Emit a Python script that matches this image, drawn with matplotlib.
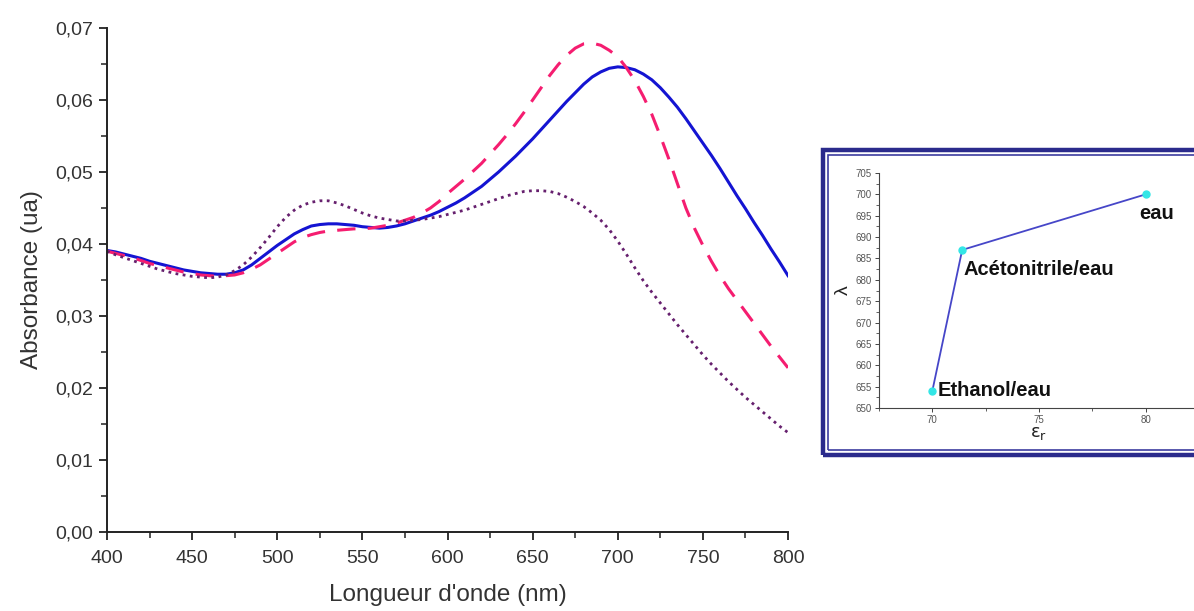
import matplotlib.pyplot as plt
from matplotlib.patches import Rectangle
from matplotlib.ticker import FuncFormatter, MultipleLocator

plt.rcParams['font.family'] = ['Liberation Sans', 'DejaVu Sans']

# Spectres (longueur d'onde en nm, pas de 5 nm)
wavelength = list(range(400, 801, 5))

abs_blue = [0.0391, 0.0389, 0.0386, 0.0383, 0.0380, 0.0376, 0.0373, 0.0370, 0.0367, 0.0364,
            0.0362, 0.0360, 0.0359, 0.0358, 0.0358, 0.0360, 0.0364, 0.0371, 0.0380, 0.0389,
            0.0398, 0.0406, 0.0414, 0.0420, 0.0425, 0.0427, 0.0428, 0.0428, 0.0427, 0.0426,
            0.0424, 0.0423, 0.0422, 0.0423, 0.0425, 0.0428, 0.0432, 0.0436, 0.0440, 0.0445,
            0.0451, 0.0457, 0.0464, 0.0472, 0.0480, 0.0490, 0.0500, 0.0511, 0.0522, 0.0534,
            0.0546, 0.0559, 0.0572, 0.0585, 0.0598, 0.0610, 0.0622, 0.0632, 0.0639, 0.0644,
            0.0646, 0.0645, 0.0642, 0.0636, 0.0628, 0.0617, 0.0604, 0.0590, 0.0574, 0.0557,
            0.0540, 0.0523, 0.0505, 0.0486, 0.0467, 0.0449, 0.0430, 0.0412, 0.0393, 0.0375,
            0.0356]

abs_pink = [0.0390, 0.0387, 0.0384, 0.0381, 0.0377, 0.0373, 0.0370, 0.0367, 0.0364, 0.0361,
            0.0359, 0.0357, 0.0356, 0.0355, 0.0356, 0.0357, 0.0360, 0.0365, 0.0371, 0.0379,
            0.0387, 0.0395, 0.0403, 0.0409, 0.0413, 0.0416, 0.0418, 0.0419, 0.0420, 0.0421,
            0.0421, 0.0422, 0.0424, 0.0426, 0.0429, 0.0433, 0.0437, 0.0443, 0.0450, 0.0459,
            0.0470, 0.0480, 0.0490, 0.0501, 0.0512, 0.0525, 0.0538, 0.0552, 0.0567, 0.0583,
            0.0600, 0.0617, 0.0634, 0.0649, 0.0662, 0.0672, 0.0678, 0.0679, 0.0676, 0.0669,
            0.0660, 0.0645, 0.0627, 0.0605, 0.0580, 0.0550, 0.0518, 0.0484, 0.0450, 0.0422,
            0.0398, 0.0376, 0.0356, 0.0338, 0.0322, 0.0306, 0.0290, 0.0274, 0.0258, 0.0243,
            0.0228]

abs_purple = [0.0390, 0.0385, 0.0381, 0.0377, 0.0373, 0.0369, 0.0365, 0.0362, 0.0359, 0.0357,
              0.0355, 0.0354, 0.0353, 0.0354, 0.0357, 0.0363, 0.0371, 0.0382, 0.0395, 0.0409,
              0.0424, 0.0437, 0.0447, 0.0454, 0.0458, 0.0460, 0.0460, 0.0457, 0.0453, 0.0448,
              0.0443, 0.0439, 0.0436, 0.0434, 0.0432, 0.0432, 0.0433, 0.0434, 0.0436, 0.0438,
              0.0441, 0.0444, 0.0447, 0.0451, 0.0455, 0.0459, 0.0463, 0.0467, 0.0470, 0.0473,
              0.0474, 0.0474, 0.0473, 0.0470, 0.0465, 0.0459, 0.0452, 0.0443, 0.0433, 0.0420,
              0.0404, 0.0386, 0.0367, 0.0349, 0.0333, 0.0318, 0.0303, 0.0288, 0.0274, 0.0260,
              0.0246, 0.0233, 0.0221, 0.0209, 0.0198, 0.0187, 0.0177, 0.0167, 0.0157, 0.0147,
              0.0138]

# Encart : lambda max en fonction de epsilon_r
eps_r = [70.0, 71.4, 80.0]
lambda_max = [654, 687, 700]
solvants = ['Ethanol/eau', 'Acétonitrile/eau', 'eau']

fig = plt.figure(figsize=(11.94, 6.11), dpi=100)
txt = '#333333'

ax = fig.add_axes([0.0896, 0.1293, 0.5704, 0.8249])
ax.plot(wavelength, abs_blue, color='#1414d2', lw=2.2, ls='-')
ax.plot(wavelength, abs_pink, color='#f51d70', lw=2.2, ls=(0, (6, 4)))
ax.plot(wavelength, abs_purple, color='#66206e', lw=2.0, ls=(0, (1, 1.6)))

ax.set_xlim(400, 800)
ax.set_ylim(0, 0.07)
ax.xaxis.set_major_locator(MultipleLocator(50))
ax.xaxis.set_minor_locator(MultipleLocator(25))
ax.yaxis.set_major_locator(MultipleLocator(0.01))
ax.yaxis.set_minor_locator(MultipleLocator(0.005))
ax.yaxis.set_major_formatter(FuncFormatter(lambda v, p: f'{v:.2f}'.replace('.', ',')))
for s in ['top', 'right']:
    ax.spines[s].set_visible(False)
for s in ['left', 'bottom']:
    ax.spines[s].set_linewidth(1.4)
    ax.spines[s].set_color('#222222')
ax.tick_params(which='major', direction='out', length=6, width=1.3, labelsize=14,
               labelcolor=txt, color='#222222')
ax.tick_params(axis='y', which='major', pad=4)
ax.tick_params(axis='x', which='major', pad=7)
ax.tick_params(which='minor', direction='out', length=4, width=1.1, color='#222222')
ax.set_xlabel("Longueur d'onde (nm)", fontsize=17.5, color=txt, labelpad=12)
ax.set_ylabel('Absorbance (ua)', fontsize=17.5, color=txt, labelpad=9)

# cadre double de l'encart
W, H = 1194, 611
fig.patches.append(Rectangle((823 / W, 1 - 455 / H), 400 / W, 305 / H, transform=fig.transFigure,
                             fill=False, ec='#2b2b8c', lw=3.2, zorder=0))
fig.patches.append(Rectangle((828 / W, 1 - 450 / H), 395 / W, 295 / H, transform=fig.transFigure,
                             fill=False, ec='#3c3ca0', lw=1.2, zorder=0))

ins = fig.add_axes([879 / W, 1 - 408 / H, 320 / W, 235 / H])
ins.plot(eps_r, lambda_max, color='#4646c8', lw=1.3, marker='o', ms=5,
         mfc='#33e6e6', mec='#33e6e6')
ins.set_xlim(67.5, 82.5)
ins.set_ylim(650, 705)
ins.xaxis.set_major_locator(MultipleLocator(5))
ins.xaxis.set_minor_locator(MultipleLocator(2.5))
ins.yaxis.set_major_locator(MultipleLocator(5))
ins.yaxis.set_minor_locator(MultipleLocator(2.5))
for s in ['top', 'right']:
    ins.spines[s].set_visible(False)
for s in ['left', 'bottom']:
    ins.spines[s].set_linewidth(0.8)
    ins.spines[s].set_color('#444444')
ins.tick_params(which='major', direction='out', length=3, width=0.7, labelsize=7,
                labelcolor='#555555', color='#444444', pad=2)
ins.tick_params(which='minor', direction='out', length=2, width=0.6, color='#444444')
ins.set_xlabel(r'$\mathrm{\varepsilon_r}$', fontsize=13, color='#222222', labelpad=0)
ins.set_ylabel('λ', fontsize=14, color='#222222', labelpad=3)

offsets = [(0.25, 0.0), (0.05, -4.5), (-0.3, -4.5)]
for x, y, name, (dx, dy) in zip(eps_r, lambda_max, solvants, offsets):
    ins.text(x + dx, y + dy, name, fontsize=14.5, fontweight='bold', color='#111111',
             va='center', ha='left')

fig.savefig('out.png', dpi=100)
